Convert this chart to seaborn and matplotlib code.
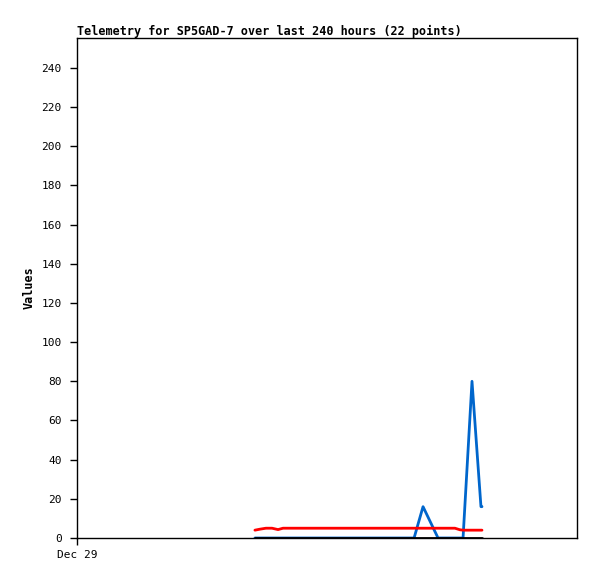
import matplotlib
matplotlib.use("Agg")
import matplotlib.pyplot as plt
import seaborn as sns
import pandas as pd

# hours since Dec 29 00:00
hours = [85.4, 87.8, 90.7, 93.6, 96.5, 98.9, 107.0, 116.6, 121.4, 131.5, 143.0, 150.2,
         161.8, 166.1, 173.3, 178.1, 181.4, 183.8, 185.3, 189.6, 193.9, 194.4]
series_red = [4, 4.5, 5, 5, 4.3, 5, 5, 5, 5, 5, 5, 5,
              5, 5, 5, 5, 5, 4.2, 4, 4, 4, 4]
series_blue = [0, 0, 0, 0, 0, 0, 0, 0, 0, 0, 0, 0,
               0, 16, 0, 0, 0, 0, 0, 80, 16, 16]
series_black = [0] * 22
x_tick_labels = ["Dec 29"]
y_ticks = list(range(0, 241, 20))

rows = []
for name, vals in [("blue", series_blue), ("red", series_red), ("black", series_black)]:
    for h, v in zip(hours, vals):
        rows.append({"hours": h, "value": v, "series": name})
df = pd.DataFrame(rows)

sns.set_style("white", {"xtick.bottom": True, "ytick.left": True,
                        "text.color": "black", "axes.labelcolor": "black",
                        "xtick.color": "black", "ytick.color": "black"})
plt.rcParams["font.family"] = ["DejaVu Sans Mono"]

fig = plt.figure(figsize=(5.97, 5.79), dpi=100)
ax = fig.add_axes([77/597, 41/579, 500/597, 500/579])

sns.lineplot(data=df, x="hours", y="value", hue="series",
             palette={"black": "#000000", "red": "#ff0000", "blue": "#0066cc"},
             hue_order=["blue", "red", "black"], linewidth=2, legend=False, ax=ax,
             estimator=None, sort=False)

ax.set_xlim(0, 240)
ax.set_ylim(0, 255.3)
ax.set_yticks(y_ticks)
ax.set_yticklabels([str(t) for t in y_ticks], fontsize=8)
ax.set_xticks([0])
ax.set_xticklabels(x_tick_labels, fontsize=8)
ax.tick_params(axis="both", direction="out", length=5, width=1, colors="black")
ax.tick_params(axis="y", pad=6)
ax.tick_params(axis="x", pad=4)
for s in ax.spines.values():
    s.set_color("black")
    s.set_linewidth(1)
ax.set_xlabel("")
ax.set_ylabel("Values", fontsize=8.5, fontweight="bold", labelpad=4, color="black")
ax.set_title("Telemetry for SP5GAD-7 over last 240 hours (22 points)",
             fontsize=8.5, fontweight="bold", loc="left", pad=2, color="black")

fig.savefig("out.png", dpi=100)
